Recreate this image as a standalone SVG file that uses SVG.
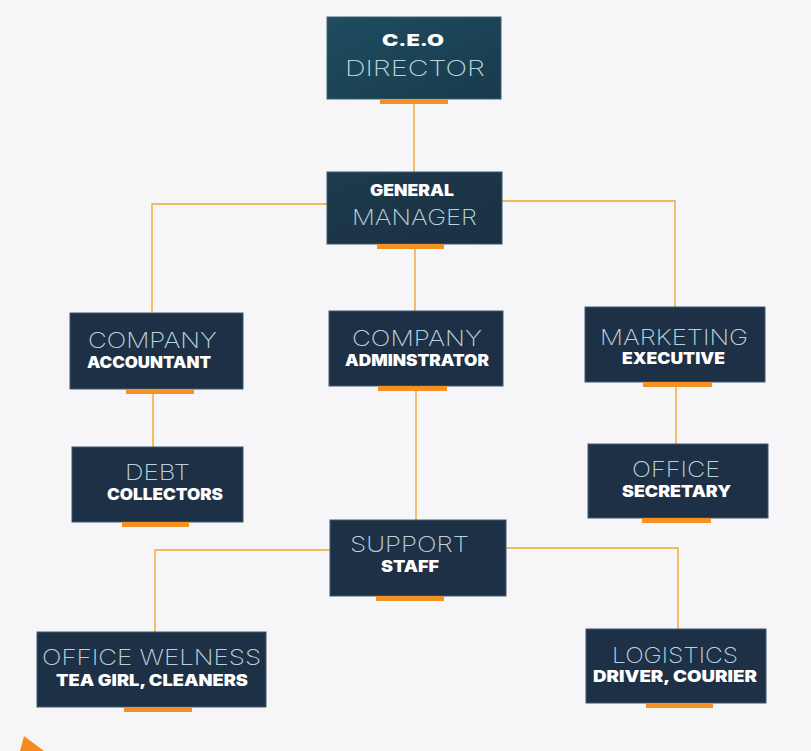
<svg xmlns="http://www.w3.org/2000/svg" width="811" height="751" viewBox="0 0 811 751">
<defs>
<linearGradient id="gCeo" x1="0" y1="0" x2="1" y2="1">
<stop offset="0" stop-color="#1f4c60"/><stop offset="1" stop-color="#183a4c"/>
</linearGradient>
<linearGradient id="gGm" x1="0" y1="0" x2="1" y2="1">
<stop offset="0" stop-color="#1d3a4c"/><stop offset="1" stop-color="#1a3142"/>
</linearGradient>
<style>
.box{fill:#1e3045;stroke:#3d5870;stroke-width:1}
.bar{fill:#f39222}
.lt{font-family:Inter,Lato,"Liberation Sans",sans-serif;font-weight:200;fill:#b9d3dd;text-anchor:middle;font-size:22px}
.bd{font-family:Inter,"Liberation Sans",sans-serif;font-weight:900;fill:#ffffff;text-anchor:middle;font-size:15.5px}
.ln{fill:none;stroke:#f2a52e;stroke-width:1.4}
</style>
</defs>
<rect x="0" y="0" width="811" height="751" fill="#f6f6f9"/>
<g id="connectors">
<path class="ln" d="M414,104 V172"/>
<path class="ln" d="M327,204 H152 V313"/>
<path class="ln" d="M502,201 H675 V307"/>
<path class="ln" d="M415,249 V311"/>
<path class="ln" d="M153,394 V447"/>
<path class="ln" d="M676,387 V444"/>
<path class="ln" d="M416,391 V520"/>
<path class="ln" d="M330,550 H155 V632"/>
<path class="ln" d="M506,548 H678 V629"/>
</g>
<g id="ceo">
<rect x="327" y="17" width="174" height="82" fill="url(#gCeo)" stroke="#3d6275" stroke-width="1"/>
<rect class="bar" x="380" y="99" width="68" height="5"/>
<text class="bd" x="413" y="46" font-size="18" textLength="62" lengthAdjust="spacingAndGlyphs">C.E.O</text>
<text class="lt" x="415" y="76" font-size="23" textLength="140" lengthAdjust="spacingAndGlyphs">DIRECTOR</text>
</g>
<g id="gm">
<rect x="327" y="172" width="175" height="72" fill="url(#gGm)" stroke="#3d5870" stroke-width="1"/>
<rect class="bar" x="377" y="244" width="67" height="5"/>
<text class="bd" x="412" y="196" font-size="15" textLength="84" lengthAdjust="spacingAndGlyphs">GENERAL</text>
<text class="lt" x="414.5" y="225" textLength="125" lengthAdjust="spacingAndGlyphs">MANAGER</text>
</g>
<g id="accountant">
<rect class="box" x="70" y="313" width="173" height="76"/>
<rect class="bar" x="126" y="389" width="68" height="5"/>
<text class="lt" x="152.5" y="348" textLength="129" lengthAdjust="spacingAndGlyphs">COMPANY</text>
<text class="bd" x="149" y="368" textLength="124" lengthAdjust="spacingAndGlyphs">ACCOUNTANT</text>
</g>
<g id="administrator">
<rect class="box" x="329" y="311" width="174" height="75"/>
<rect class="bar" x="378" y="386" width="69" height="5"/>
<text class="lt" x="417" y="346" textLength="130" lengthAdjust="spacingAndGlyphs">COMPANY</text>
<text class="bd" x="417" y="366" textLength="144" lengthAdjust="spacingAndGlyphs">ADMINSTRATOR</text>
</g>
<g id="marketing">
<rect class="box" x="585" y="307" width="180" height="75"/>
<rect class="bar" x="643" y="382" width="69" height="5"/>
<text class="lt" x="674" y="345" textLength="148" lengthAdjust="spacingAndGlyphs">MARKETING</text>
<text class="bd" x="673.5" y="364" textLength="103" lengthAdjust="spacingAndGlyphs">EXECUTIVE</text>
</g>
<g id="debt">
<rect class="box" x="72" y="447" width="171" height="75"/>
<rect class="bar" x="122" y="522" width="67" height="5"/>
<text class="lt" x="157.5" y="480" textLength="65" lengthAdjust="spacingAndGlyphs">DEBT</text>
<text class="bd" x="165" y="500" textLength="116" lengthAdjust="spacingAndGlyphs">COLLECTORS</text>
</g>
<g id="secretary">
<rect class="box" x="588" y="444" width="180" height="74"/>
<rect class="bar" x="642" y="518" width="69" height="5"/>
<text class="lt" x="676" y="477" textLength="88" lengthAdjust="spacingAndGlyphs">OFFICE</text>
<text class="bd" x="676.5" y="497" textLength="109" lengthAdjust="spacingAndGlyphs">SECRETARY</text>
</g>
<g id="support">
<rect class="box" x="330" y="520" width="176" height="76"/>
<rect class="bar" x="376" y="596" width="68" height="5"/>
<text class="lt" x="409.5" y="552" textLength="119" lengthAdjust="spacingAndGlyphs">SUPPORT</text>
<text class="bd" x="410" y="572" textLength="58" lengthAdjust="spacingAndGlyphs">STAFF</text>
</g>
<g id="welness">
<rect class="box" x="37" y="632" width="229" height="75"/>
<rect class="bar" x="124" y="707" width="68" height="5"/>
<text class="lt" x="151.5" y="665" textLength="219" lengthAdjust="spacingAndGlyphs">OFFICE WELNESS</text>
<text class="bd" x="152" y="686" textLength="192" lengthAdjust="spacingAndGlyphs">TEA GIRL, CLEANERS</text>
</g>
<g id="logistics">
<rect class="box" x="586" y="629" width="180" height="74"/>
<rect class="bar" x="646" y="703" width="67" height="5"/>
<text class="lt" x="675" y="663" textLength="126" lengthAdjust="spacingAndGlyphs">LOGISTICS</text>
<text class="bd" x="675" y="682" textLength="164" lengthAdjust="spacingAndGlyphs">DRIVER, COURIER</text>
</g>
<polygon points="24,736 20,751 44,751" fill="#f58a1f"/>
</svg>
